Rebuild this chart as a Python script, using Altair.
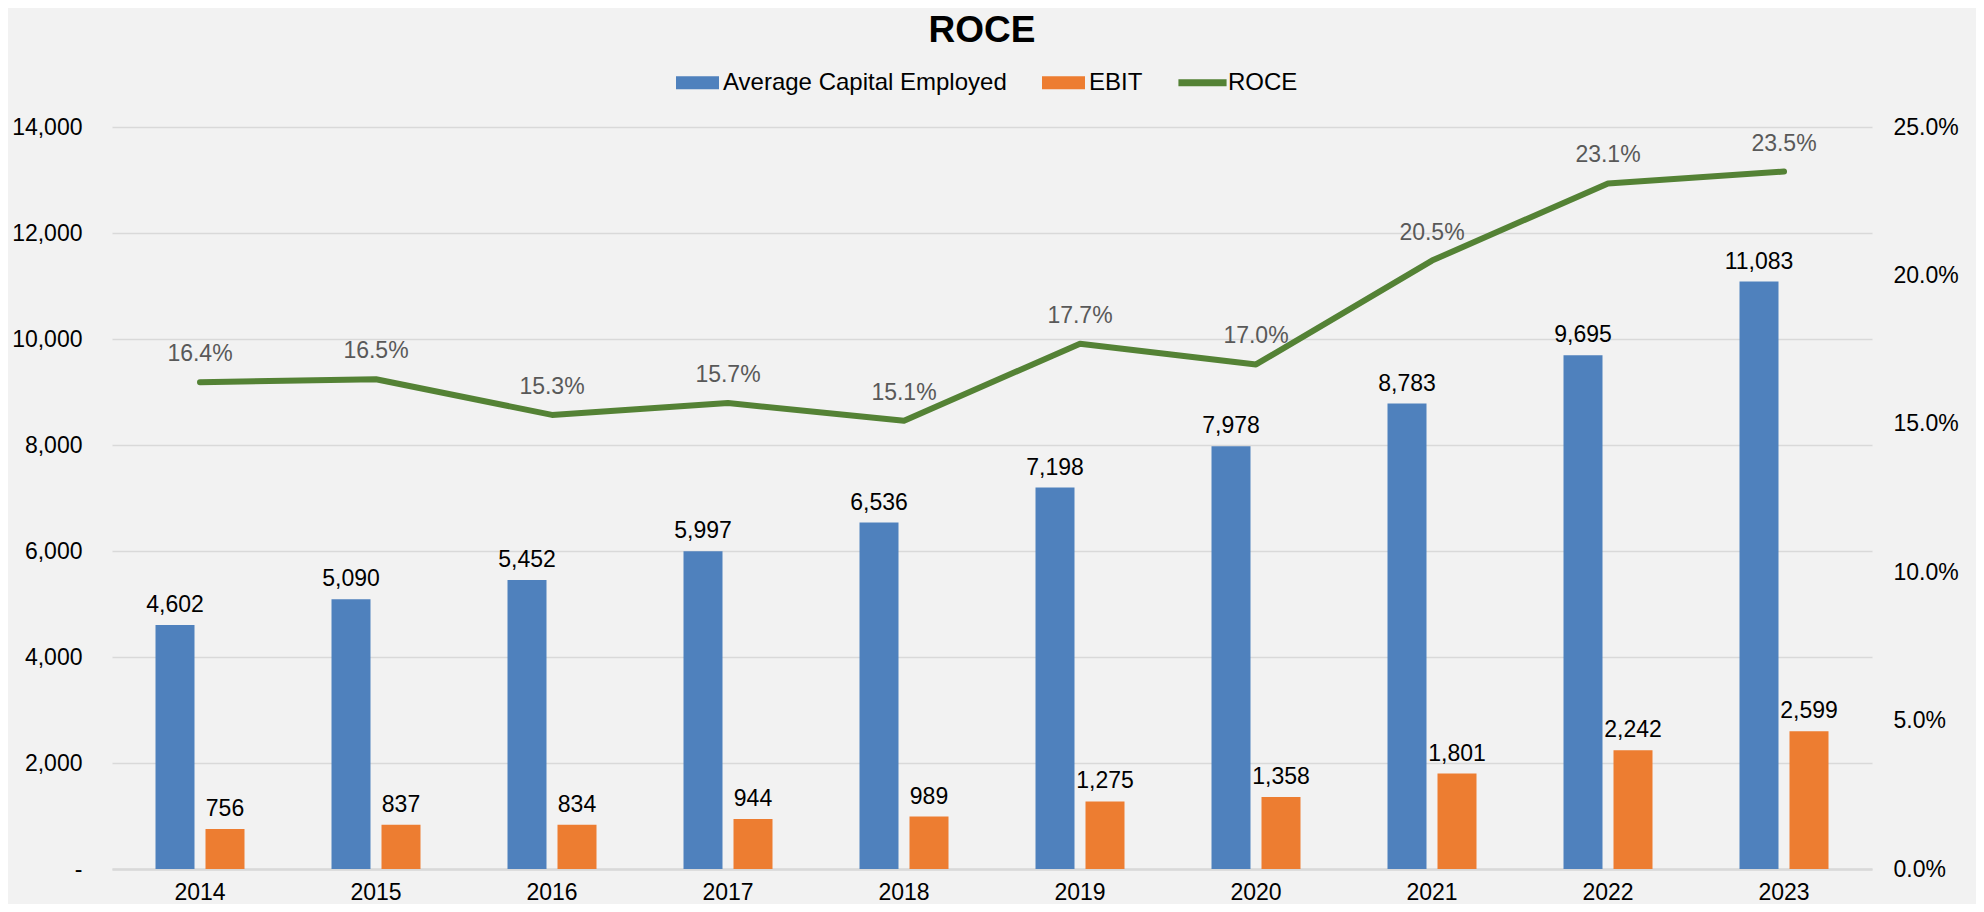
import altair as alt
import pandas as pd

years = ["2014", "2015", "2016", "2017", "2018", "2019", "2020", "2021", "2022", "2023"]
ace = [4602, 5090, 5452, 5997, 6536, 7198, 7978, 8783, 9695, 11083]
ebit = [756, 837, 834, 944, 989, 1275, 1358, 1801, 2242, 2599]
roce_pct = [16.4, 16.5, 15.3, 15.7, 15.1, 17.7, 17.0, 20.5, 23.1, 23.5]
series_names = ["Average Capital Employed", "EBIT", "ROCE"]
series_colors = ["#4F81BD", "#ED7D31", "#548235"]
left_ticks = [0, 2000, 4000, 6000, 8000, 10000, 12000, 14000]
right_ticks = [0.0, 0.05, 0.10, 0.15, 0.20, 0.25]

FONT = "Liberation Sans"

bars_df = pd.DataFrame({
    "year": years * 2,
    "series": [series_names[0]] * len(years) + [series_names[1]] * len(years),
    "value": ace + ebit,
})
line_df = pd.DataFrame({"year": years, "roce": [v / 100 for v in roce_pct]})

x_enc = alt.X(
    "year:N", sort=years,
    scale=alt.Scale(paddingInner=0, paddingOuter=0),
    axis=alt.Axis(title=None, labelAngle=0, labelFontSize=23, labelFont=FONT,
                  labelColor="#000000", labelPadding=12, ticks=False,
                  domain=True, domainColor="#D9D9D9", domainWidth=2.5, grid=False),
)

y_left = alt.Y(
    "value:Q",
    scale=alt.Scale(domain=[0, 14000], nice=False),
    axis=alt.Axis(title=None, values=left_ticks,
                  labelExpr="datum.value == 0 ? '-' : format(datum.value, ',')",
                  grid=True, gridColor="#D9D9D9", gridWidth=1.5, domain=False,
                  ticks=False, labelPadding=30, labelFontSize=23, labelFont=FONT,
                  labelColor="#000000"),
)

color_enc = alt.Color(
    "series:N",
    scale=alt.Scale(domain=series_names, range=series_colors),
    legend=alt.Legend(
        title=None, orient="none", direction="horizontal",
        legendX=564, legendY=-66, padding=0,
        symbolType=alt.ExprRef(expr="datum.value == 'ROCE' ? 'M-1.12,-0.16H1.12V0.16H-1.12Z' : 'M-1,-0.3H1V0.3H-1Z'"),
        symbolSize=1849, symbolStrokeWidth=0, symbolOpacity=1,
        labelFontSize=24, labelFont=FONT, labelColor="#000000", labelLimit=0,
        labelOffset=4, columnPadding=35,
    ),
)

base = alt.Chart(bars_df)
ace_bar = base.transform_filter(alt.datum.series == series_names[0]).mark_bar(
    width=39, xOffset=-25).encode(x=x_enc, y=y_left, color=color_enc)
ebit_bar = base.transform_filter(alt.datum.series == series_names[1]).mark_bar(
    width=39, xOffset=25).encode(x=x_enc, y=y_left, color=color_enc)
ace_txt = base.transform_filter(alt.datum.series == series_names[0]).mark_text(
    xOffset=-25, dy=-13, baseline="alphabetic", fontSize=23, font=FONT, color="#000000"
).encode(x=x_enc, y=y_left, text=alt.Text("value:Q", format=","))
ebit_txt = base.transform_filter(alt.datum.series == series_names[1]).mark_text(
    xOffset=25, dy=-13, baseline="alphabetic", fontSize=23, font=FONT, color="#000000"
).encode(x=x_enc, y=y_left, text=alt.Text("value:Q", format=","))

bars_layer = alt.layer(ace_bar, ebit_bar, ace_txt, ebit_txt)

y_right = alt.Y(
    "roce:Q",
    scale=alt.Scale(domain=[0, 0.25], nice=False),
    axis=alt.Axis(title=None, orient="right", values=right_ticks, format=".1%",
                  grid=False, domain=False, ticks=False, labelPadding=21,
                  labelFontSize=23, labelFont=FONT, labelColor="#000000"),
)

line = alt.Chart(line_df).mark_line(
    color=series_colors[2], strokeWidth=6, strokeCap="round", strokeJoin="round"
).encode(x=x_enc, y=y_right)
line_txt = alt.Chart(line_df).mark_text(
    dy=-21, baseline="alphabetic", fontSize=23, font=FONT, color="#595959"
).encode(x=x_enc, y=y_right, text=alt.Text("roce:Q", format=".1%"))

line_layer = alt.layer(line, line_txt)

chart = alt.layer(bars_layer, line_layer).resolve_scale(y="independent").properties(
    width=1760, height=742,
    padding={"left": 104, "top": 119, "right": 104, "bottom": 35},
    autosize=alt.AutoSizeParams(type="none"),
    background="#F2F2F2",
    title=alt.Title("ROCE", fontSize=37, font=FONT, fontWeight="bold",
                    color="#000000", anchor="middle", offset=11, dx=-10),
).configure_view(stroke=None)

chart.save("out.html", embed_options={"renderer": "svg", "actions": False})
